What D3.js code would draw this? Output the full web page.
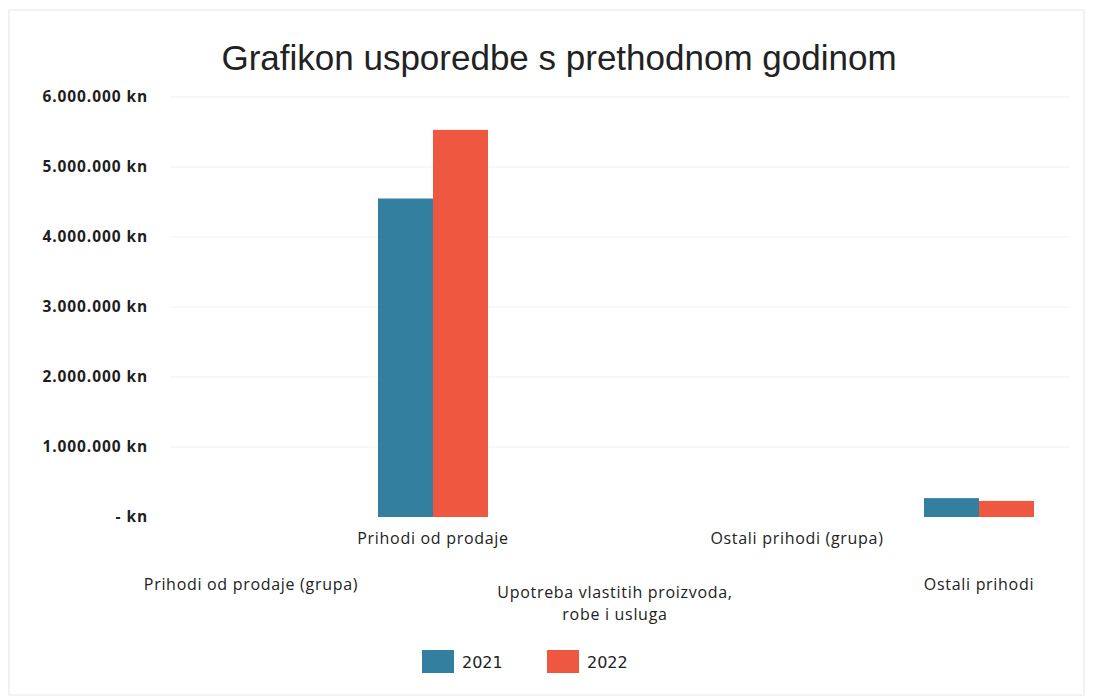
<!DOCTYPE html>
<html><head><meta charset="utf-8">
<script src="https://cdn.jsdelivr.net/npm/d3@7"></script>
<style>body{margin:0;background:#fff}svg{display:block}</style>
</head><body><svg id="c" width="1095" height="699"></svg>
<script>
const title = "Grafikon usporedbe s prethodnom godinom";
const categories = ["Prihodi od prodaje (grupa)", "Prihodi od prodaje", "Upotreba vlastitih proizvoda, robe i usluga", "Ostali prihodi (grupa)", "Ostali prihodi"];
const categoryLines = [["Prihodi od prodaje (grupa)"], ["Prihodi od prodaje"], ["Upotreba vlastitih proizvoda,", "robe i usluga"], ["Ostali prihodi (grupa)"], ["Ostali prihodi"]];
const seriesNames = ["2021", "2022"];
const values2021 = [null, 4550000, null, null, 270000];
const values2022 = [null, 5530000, null, null, 230000];
const yTicks = [0, 1000000, 2000000, 3000000, 4000000, 5000000, 6000000];
const colors = ["#337f9f", "#ee5840"];

const svg = d3.select("#c");
const W = 1095, H = 699;
const m = {left: 160, right: 25, top: 97, bottom: 182};
const x = d3.scaleBand().domain(categories).range([m.left, W - m.right]).paddingInner(0).paddingOuter(0);
const y = d3.scaleLinear().domain([0, 6000000]).range([H - m.bottom, m.top]);
const xs = d3.scaleBand().domain(seriesNames).range([0, 110]);

// faint frame (scan edge)
svg.append("rect").attr("x", 9).attr("y", 10).attr("width", W - 20).attr("height", H - 14)
  .attr("fill", "none").attr("stroke", "#e6e6e6").attr("stroke-width", 1);

// gridlines
svg.append("g").selectAll("line").data(yTicks.slice(1)).join("line")
  .attr("x1", m.left + 10).attr("x2", W - m.right).attr("y1", d => y(d)).attr("y2", d => y(d))
  .attr("stroke", "#f1f1f1").attr("stroke-width", 1);

// title
svg.append("text").attr("x", 559).attr("y", 70).attr("text-anchor", "middle")
  .attr("font-family", "Liberation Sans, Arial, sans-serif").attr("font-size", 35)
  .attr("fill", "#222").text(title);

// y axis
const fmt = d => d === 0 ? "- kn" : d3.format(",")(d).replace(/,/g, ".") + " kn";
const yAxis = d3.axisLeft(y).tickValues(yTicks).tickFormat(fmt).tickSize(0).tickPadding(0);
const ya = svg.append("g").attr("transform", `translate(148,0)`).call(yAxis);
ya.select(".domain").remove();
ya.selectAll("text").attr("font-family", "Open Sans, sans-serif").attr("font-weight", "bold")
  .attr("font-size", 15.5).attr("letter-spacing", 0.9).attr("fill", "#1e1e1e").attr("dy", "0.32em");

// bars
const series = [values2021, values2022];
series.forEach((vals, si) => {
  svg.append("g").selectAll("rect").data(categories.map((c, i) => ({c, v: vals[i]})).filter(d => d.v != null))
    .join("rect")
    .attr("x", d => x(d.c) + x.bandwidth() / 2 - 55 + xs(seriesNames[si]))
    .attr("width", xs.bandwidth())
    .attr("y", d => y(d.v))
    .attr("height", d => y(0) - y(d.v))
    .attr("fill", colors[si]);
});

// category labels (staggered)
const lab = svg.append("g").attr("font-family", "Open Sans, sans-serif").attr("font-size", 16)
  .attr("letter-spacing", 0.7).attr("fill", "#222");
categories.forEach((c, i) => {
  const lines = categoryLines[i];
  const baseY = i % 2 === 1 ? 544 : (lines.length > 1 ? 598 : 590);
  const t = lab.append("text").attr("x", x(c) + x.bandwidth() / 2).attr("y", baseY).attr("text-anchor", "middle");
  lines.forEach((ln, k) => t.append("tspan").attr("x", x(c) + x.bandwidth() / 2).attr("dy", k === 0 ? 0 : 22).text(ln));
});

// legend
const lg = svg.append("g");
const legendX = [422, 547];
seriesNames.forEach((s, i) => {
  lg.append("rect").attr("x", legendX[i]).attr("y", 650).attr("width", 32).attr("height", 23).attr("fill", colors[i]);
  lg.append("text").attr("x", legendX[i] + 40).attr("y", 668).attr("font-family", "DejaVu Sans, sans-serif")
    .attr("font-size", 16).attr("fill", "#222").text(s);
});
</script></body></html>
